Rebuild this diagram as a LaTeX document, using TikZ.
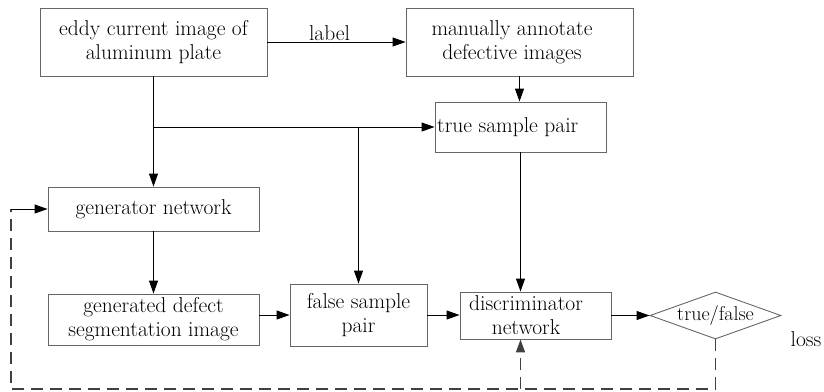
\documentclass[tikz,border=0pt]{standalone}
\usetikzlibrary{arrows.meta,shapes.geometric}
\begin{document}
\begin{tikzpicture}[x=1pt,y=-1pt,
  every node/.style={font=\fontsize{21.5}{24}\selectfont},
  blk/.style={draw=black!60,line width=0.9pt,inner sep=0pt,align=center},
  txt/.style={inner sep=0pt,align=center},
  arr/.style={-{Triangle[length=13pt,width=9pt]},line width=0.9pt},
  dsh/.style={line width=1.6pt,draw=black!75,dash pattern=on 12pt off 7pt}]
\useasboundingbox (0,0) rectangle (824,391);
% boxes
\node[blk,minimum width=227pt,minimum height=68pt] (eddy) at (153.5,42) {eddy current image of\\aluminum plate};
\node[blk,minimum width=227pt,minimum height=68pt] (manual) at (519.5,42) {};
\node[txt] (manualt) at (512,42) {manually annotate\\defective images};
\node[blk,minimum width=171pt,minimum height=50pt] (true) at (520.5,127) {};
\node[txt,anchor=west] (truet) at (437,127) {true sample pair};
\node[blk,minimum width=211pt,minimum height=44pt] (gen) at (153.5,209) {generator network};
\node[blk,minimum width=211pt,minimum height=51pt] (seg) at (153.5,319.5) {generated defect\\segmentation image};
\node[blk,minimum width=137pt,minimum height=62pt] (false) at (358.5,315) {false sample\\pair};
\node[blk,minimum width=151pt,minimum height=47pt] (disc) at (535.5,315.5) {};
\node[txt] (disct) at (526,315.5) {discriminator\\network};
\node[diamond,draw=black!60,line width=0.9pt,aspect=2.8,inner sep=0pt,minimum width=131pt,minimum height=47pt] (tf) at (715.5,315.5) {\makebox[0pt]{\fontsize{20}{24}\selectfont true/false}};
\node[txt,anchor=base] (loss) at (806,346) {loss};
% connectors
\draw[arr] (eddy.east) -- node[above=1pt,xshift=-7pt,inner sep=0pt] (lab) {label} (manual.west);
\draw[arr] (eddy.south) -- (gen.north);
\coordinate (j1) at (eddy.south |- true.west);
\coordinate (j2) at (false.north |- true.west);
\draw[arr] (j1) -- (true.west);
\draw[arr] (j2) -- (false.north);
\draw[arr] (manual.south) -- (manual.south |- true.north);
\draw[arr] (true.south) -- (true.south |- disc.north);
\draw[arr] (gen.south) -- (seg.north);
\draw[arr] (false.west -| seg.east) -- (false.west);
\draw[arr] (false.east) -- (false.east -| disc.west);
\draw[arr] (disc.east) -- (tf.west);
% feedback
\coordinate (c1) at (715.5,389);
\coordinate (c2) at (11,389);
\coordinate (c3) at (c2 |- gen.west);
\coordinate (c4) at (true.south |- c1);
\draw[dsh] (tf.south) -- (c1) -- (c2) -- (c3);
\draw[arr] (c3) -- (gen.west);
\draw[dsh,-{Triangle[length=13pt,width=9pt]}] (c4) -- (true.south |- disc.south);
\end{tikzpicture}
\end{document}
